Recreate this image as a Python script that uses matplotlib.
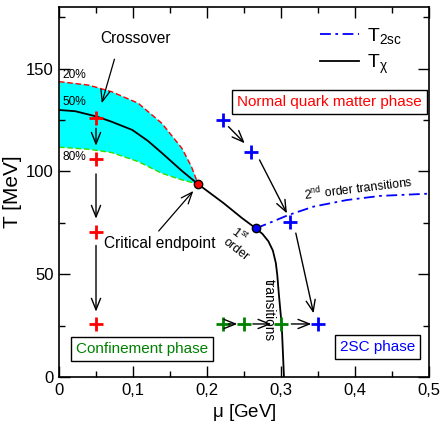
import matplotlib
matplotlib.use('Agg')
import matplotlib.pyplot as plt
from matplotlib.ticker import MultipleLocator, FuncFormatter

plt.rcParams['font.family'] = ['Liberation Sans', 'DejaVu Sans']
plt.rcParams['mathtext.fontset'] = 'custom'
plt.rcParams['mathtext.rm'] = 'Liberation Sans'
plt.rcParams['mathtext.it'] = 'Liberation Sans'
plt.rcParams['mathtext.bf'] = 'Liberation Sans:bold'

# ---- crossover band (20%, 50%, 80%) ----
mu_20 = [0.0, 0.04, 0.071, 0.107, 0.139, 0.166, 0.179, 0.188]
T_20 = [143.7, 142.0, 138.8, 133.2, 123.4, 111.3, 102.3, 93.8]
mu_50 = [0.0, 0.022, 0.051, 0.071, 0.099, 0.12, 0.139, 0.166, 0.188]
T_50 = [129.9, 129.3, 126.7, 124.2, 120.2, 114.9, 109.0, 100.3, 93.8]
mu_80 = [0.0, 0.04, 0.071, 0.107, 0.139, 0.166, 0.179, 0.188]
T_80 = [111.8, 110.8, 109.2, 104.8, 99.1, 95.9, 94.7, 93.8]

# ---- first order chiral line ----
mu_1st = [0.188, 0.222, 0.247, 0.266, 0.275, 0.283, 0.289, 0.293, 0.295, 0.297, 0.301, 0.304]
T_1st = [93.8, 84.7, 77.4, 72.3, 69.6, 66.0, 61.5, 55.5, 49.5, 40.7, 25.0, 0.0]

# ---- 2SC line ----
mu_2sc = [0.266, 0.29, 0.31, 0.344, 0.389, 0.434, 0.5]
T_2sc = [72.3, 75.8, 78.8, 82.9, 86.1, 88.1, 89.2]

# critical endpoint / tricritical point
cep = (0.188, 93.8)
tcp = (0.266, 72.3)

# ---- plus markers ----
red_mu = [0.05, 0.05, 0.05, 0.05]
red_T = [126.2, 105.9, 70.6, 25.8]
blue_mu = [0.221, 0.26, 0.312, 0.35]
blue_T = [125.0, 109.5, 75.5, 25.8]
green_mu = [0.221, 0.25, 0.30]
green_T = [25.8, 25.8, 25.8]

# ---- arrows (start, end) ----
arrows = [((0.05, 121.0), (0.05, 112.5)),
          ((0.05, 98.8), (0.05, 77.0)),
          ((0.05, 64.0), (0.05, 31.8)),
          ((0.229, 25.8), (0.241, 25.8)),
          ((0.262, 25.8), (0.287, 25.8)),
          ((0.314, 25.8), (0.341, 25.8)),
          ((0.229, 121.8), (0.251, 113.7)),
          ((0.271, 105.6), (0.308, 79.6)),
          ((0.32, 70.0), (0.344, 31.0))]

AST = '->,head_length=0.55,head_width=0.22'

fig = plt.figure(figsize=(4.43, 4.32), dpi=100)
ax = fig.add_axes([0.1332, 0.1273, 0.8352, 0.8565])

band_x = mu_20 + mu_80[::-1]
band_y = T_20 + T_80[::-1]
ax.fill(band_x, band_y, color='#00ffff', lw=0)
ax.plot(mu_20, T_20, color='red', ls=(0, (4, 2)), lw=1)
ax.plot(mu_80, T_80, color='#33dd00', ls=(0, (4, 2)), lw=1)
ax.plot(mu_50, T_50, color='black', lw=1.3)
ax.plot(mu_1st, T_1st, color='black', lw=1.3)
ax.plot(mu_2sc, T_2sc, color='blue', lw=1.3, ls=(0, (6, 2.5, 1.5, 2.5)))

# legend handles
ax.plot([], [], color='blue', lw=1.3, ls=(0, (6, 2.5, 1.5, 2.5)), label=r'$\mathrm{T}_{\mathrm{2sc}}$')
ax.plot([], [], color='black', lw=1.3, label=r'$\mathrm{T}_{\chi}$')

for (s, e) in arrows:
    ax.annotate('', xy=e, xytext=s,
                arrowprops=dict(arrowstyle=AST, lw=1, color='black',
                                mutation_scale=15, shrinkA=0, shrinkB=0))

ax.plot(red_mu, red_T, ls='none', marker='+', ms=9.5, mew=2, color='red')
ax.plot(blue_mu, blue_T, ls='none', marker='+', ms=9.5, mew=2, color='blue')
ax.plot(green_mu, green_T, ls='none', marker='+', ms=9.5, mew=2, color='green')

ax.plot(*cep, marker='o', ms=6, color='red', mec='black', mew=1, zorder=5)
ax.plot(*tcp, marker='o', ms=6, color='blue', mec='black', mew=1, zorder=5)

# annotations
ax.annotate('Crossover', xy=(0.0577, 133.2), xytext=(0.104, 164.8),
            ha='center', va='center', fontsize=11.2,
            arrowprops=dict(arrowstyle=AST, lw=0.9, mutation_scale=15,
                            shrinkA=8, shrinkB=0, relpos=(0.25, 0.0)))
ax.annotate('Critical endpoint', xy=(0.1815, 90.5), xytext=(0.1365, 65),
            ha='center', va='center', fontsize=11.2,
            arrowprops=dict(arrowstyle=AST, lw=0.9, mutation_scale=15,
                            shrinkA=2, shrinkB=0, relpos=(0.45, 1.0)))

ax.text(0.005, 146.8, '20%', fontsize=8.6, ha='left', va='center')
ax.text(0.005, 133.6, '50%', fontsize=8.6, ha='left', va='center')
ax.text(0.005, 107.0, '80%', fontsize=8.6, ha='left', va='center')

ax.text(0.246, 65.0, '1$^{st}$\norder', fontsize=9, rotation=-38,
        ha='center', va='center', multialignment='left', linespacing=1.0)
ax.text(0.283, 32.6, 'transitions', fontsize=9.8, rotation=-90,
        ha='center', va='center')
ax.text(0.404, 92.0, '2$^{nd}$ order transitions', fontsize=8.8, rotation=7,
        ha='center', va='center')

box = dict(boxstyle='square,pad=0.33', fc='white', ec='black', lw=1)
ax.text(0.366, 134.0, 'Normal quark matter phase', color='red', fontsize=11,
        ha='center', va='center', bbox=box)
ax.text(0.112, 13.6, 'Confinement phase', color='green', fontsize=11,
        ha='center', va='center', bbox=box)
ax.text(0.43, 14.4, '2SC phase', color='blue', fontsize=11,
        ha='center', va='center', bbox=box)

ax.legend(loc='upper right', bbox_to_anchor=(0.965, 0.985), frameon=False,
          fontsize=14, handlelength=2.0, handletextpad=0.45, labelspacing=0.35,
          borderaxespad=0.3)

ax.set_xlim(0, 0.5)
ax.set_ylim(0, 180)
ax.xaxis.set_major_locator(MultipleLocator(0.1))
ax.xaxis.set_minor_locator(MultipleLocator(0.05))
ax.yaxis.set_major_locator(MultipleLocator(50))
ax.yaxis.set_minor_locator(MultipleLocator(25))
ax.yaxis.set_major_formatter(FuncFormatter(lambda v, p: '%d' % v))
ax.xaxis.set_major_formatter(FuncFormatter(lambda v, p: ('%g' % round(v, 2)).replace('.', ',')))
ax.tick_params(which='both', direction='in', top=True, right=True, labelsize=12, width=1)
ax.tick_params(which='major', length=8, pad=4)
ax.tick_params(which='minor', length=4)
for sp in ax.spines.values():
    sp.set_linewidth(1.2)

ax.set_xlabel(r'$\mathrm{\mu}$ [GeV]', fontsize=13.5, labelpad=3)
ax.set_ylabel('T [MeV]', fontsize=15, labelpad=3)

fig.savefig('out.png', dpi=100)
